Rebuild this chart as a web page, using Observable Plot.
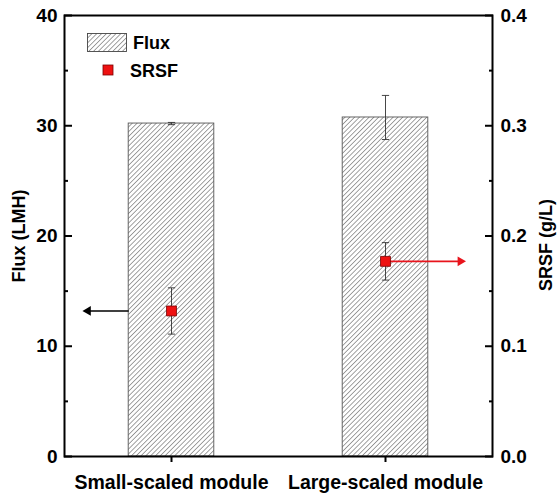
<!DOCTYPE html>
<html>
<head>
<meta charset="utf-8">
<script src="https://cdn.jsdelivr.net/npm/d3@7"></script>
<script src="https://cdn.jsdelivr.net/npm/@observablehq/plot@0.6"></script>
<style>
  html, body { margin: 0; padding: 0; background: #fff; }
  #chart svg { display: block; }
</style>
</head>
<body>
<div id="chart"></div>
<script>
// ---- data ----
const categories = ["Small-scaled module", "Large-scaled module"];
const positions = [0.5, 1.5];            // category centres on the x axis
const fluxValues = [30.2, 30.75];        // LMH
const fluxErrors = [0.1, 2.0];
const srsfValues = [0.132, 0.177];       // g/L
const srsfErrors = [0.021, 0.017];
const leftTicks = [0, 10, 20, 30, 40];
const leftMinorTicks = [5, 15, 25, 35];
const rightTickLabels = ["0.0", "0.1", "0.2", "0.3", "0.4"];
const srsfToFlux = 100;                  // right axis 0–0.4 maps onto left 0–40

// arrows pointing to the axis each series belongs to
const arrowsData = [
  {from: 0.3, to: 0.11, y: srsfValues[0], color: "#000", rot: -90},
  {from: 1.5, to: 1.85, y: srsfValues[1], color: "#e8141c", rot: 90}
];

const barHalf = 0.2;
const capHalf = 0.017;

const rows = categories.map((c, i) => ({
  cat: c, x: positions[i],
  flux: fluxValues[i], fluxErr: fluxErrors[i],
  srsf: srsfValues[i] * srsfToFlux, srsfErr: srsfErrors[i] * srsfToFlux
}));

const font = "'Liberation Sans', Arial, sans-serif";

const chart = Plot.plot({
  width: 560,
  height: 496,
  marginLeft: 64,
  marginRight: 68,
  marginTop: 15,
  marginBottom: 40,
  style: {fontFamily: font, fontWeight: "bold", color: "#000", background: "#fff"},
  x: {domain: [0, 2], axis: null},
  y: {domain: [0, 40], axis: null},
  marks: [
    // bars
    Plot.rectY(rows, {x1: d => d.x - barHalf, x2: d => d.x + barHalf, y1: 0, y2: "flux",
      fill: "url(#hatch)", stroke: "#555", strokeWidth: 0.9}),
    // flux error bars
    Plot.link(rows, {x1: "x", x2: "x", y1: d => d.flux - d.fluxErr, y2: d => d.flux + d.fluxErr, stroke: "#333", strokeWidth: 0.9}),
    Plot.link(rows, {x1: d => d.x - capHalf, x2: d => d.x + capHalf, y1: d => d.flux + d.fluxErr, y2: d => d.flux + d.fluxErr, stroke: "#333", strokeWidth: 0.9}),
    Plot.link(rows, {x1: d => d.x - capHalf, x2: d => d.x + capHalf, y1: d => d.flux - d.fluxErr, y2: d => d.flux - d.fluxErr, stroke: "#333", strokeWidth: 0.9}),
    // srsf error bars
    Plot.link(rows, {x1: "x", x2: "x", y1: d => d.srsf - d.srsfErr, y2: d => d.srsf + d.srsfErr, stroke: "#333", strokeWidth: 0.9}),
    Plot.link(rows, {x1: d => d.x - capHalf, x2: d => d.x + capHalf, y1: d => d.srsf + d.srsfErr, y2: d => d.srsf + d.srsfErr, stroke: "#333", strokeWidth: 0.9}),
    Plot.link(rows, {x1: d => d.x - capHalf, x2: d => d.x + capHalf, y1: d => d.srsf - d.srsfErr, y2: d => d.srsf - d.srsfErr, stroke: "#333", strokeWidth: 0.9}),
    // arrows
    Plot.link(arrowsData, {x1: "from", x2: "to", y1: d => d.y * srsfToFlux, y2: d => d.y * srsfToFlux, stroke: "color", strokeWidth: 1.6}),
    Plot.dot(arrowsData, {x: "to", y: d => d.y * srsfToFlux, symbol: "triangle", rotate: "rot", r: 3.6, fill: "color", stroke: "none"}),
    // srsf squares
    Plot.dot(rows, {x: "x", y: "srsf", symbol: "square", r: 5.6, fill: "#ee1111", stroke: "#7a0000", strokeWidth: 0.8}),
    // frame
    Plot.frame({stroke: "#000", strokeWidth: 2}),
    // left axis
    Plot.axisY(leftTicks, {anchor: "left", tickSize: -8, tickPadding: 15, fontSize: 19, strokeWidth: 2, tickFormat: d => String(d)}),
    Plot.axisY(leftMinorTicks, {anchor: "left", tickSize: -4, strokeWidth: 2, text: null}),
    // right axis
    Plot.axisY(leftTicks, {anchor: "right", tickSize: -8, tickPadding: 16, fontSize: 19, strokeWidth: 2, tickFormat: (d, i) => rightTickLabels[i]}),
    Plot.axisY(leftMinorTicks, {anchor: "right", tickSize: -4, strokeWidth: 2, text: null}),
    // bottom axis
    Plot.axisX(positions, {anchor: "bottom", tickSize: 6, tickPadding: 13, fontSize: 19.5, strokeWidth: 2, tickFormat: (d, i) => categories[i]}),
    // axis titles
    Plot.text(["Flux (LMH)"], {frameAnchor: "left", textAnchor: "middle", rotate: -90, dx: -45, fontSize: 18, fontWeight: "bold"}),
    Plot.text(["SRSF (g/L)"], {frameAnchor: "right", textAnchor: "middle", rotate: -90, dx: 54, dy: 9, fontSize: 18, fontWeight: "bold"})
  ]
});

// hatch pattern + legend
const svg = d3.select(chart);
const defs = svg.insert("defs", ":first-child");
const pat = defs.append("pattern").attr("id", "hatch").attr("patternUnits", "userSpaceOnUse")
  .attr("width", 3.4).attr("height", 3.4).attr("patternTransform", "rotate(45)");
pat.append("rect").attr("width", 3.4).attr("height", 3.4).attr("fill", "#fff");
pat.append("line").attr("x1", 0).attr("y1", 0).attr("x2", 0).attr("y2", 3.4)
  .attr("stroke", "#444").attr("stroke-width", 1);

const legend = svg.append("g").attr("font-family", font).attr("font-weight", "bold")
  .attr("font-size", 18).attr("text-anchor", "start");
legend.append("rect").attr("x", 87.5).attr("y", 33.5).attr("width", 39).attr("height", 18)
  .attr("fill", "url(#hatch)").attr("stroke", "#444").attr("stroke-width", 0.9);
legend.append("text").attr("x", 133).attr("y", 49).text("Flux");
legend.append("rect").attr("x", 103).attr("y", 65).attr("width", 10).attr("height", 10)
  .attr("fill", "#ee1111").attr("stroke", "#7a0000").attr("stroke-width", 0.8);
legend.append("text").attr("x", 130).attr("y", 77).text("SRSF");

document.getElementById("chart").appendChild(chart);
</script>
</body>
</html>
